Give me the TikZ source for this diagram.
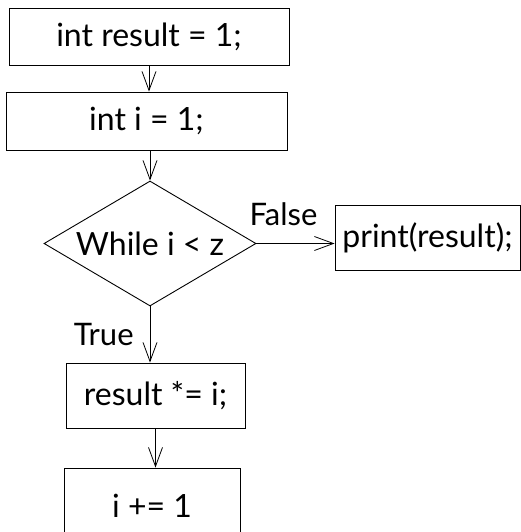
\documentclass[tikz,border=0pt]{standalone}
\usepackage{fontspec}
\setmainfont{Lato}
\usetikzlibrary{arrows.meta,shapes.geometric}

\begin{document}
\begin{tikzpicture}[x=1pt,y=-1pt]
    \tikzset{
        boxstyle/.style={draw, line width=0.9pt, inner sep=0pt, font=\fontsize{32}{36}\selectfont},
        decisionstyle/.style={boxstyle, diamond, aspect=1.7},
        flowarrow/.style={-{Straight Barb[length=19pt,width=14pt]}, line width=0.8pt},
        labelstyle/.style={font=\fontsize{31}{36}\selectfont, inner sep=2pt}
    }
    \clip (0,0) rectangle (521,532);

    % Blocs du programme
    \node[boxstyle, minimum width=280, minimum height=57] (init) at (149,36.5) {int result = 1;};
    \node[boxstyle, minimum width=281, minimum height=58] (counter) at (146.5,121) {int i = 1;};
    \node[decisionstyle, minimum width=212, minimum height=125] (loop) at (150,243.5) {While i < z};
    \node[boxstyle, minimum width=185, minimum height=65] (output) at (427.5,237.5) {print(result);};
    \node[boxstyle, minimum width=179, minimum height=65] (product) at (155.5,395.5) {result *= i;};
    \node[boxstyle, minimum width=176, minimum height=76] (increment) at (152,506) {i += 1};

    % Flèches
    \draw[flowarrow] (init.south) -- (init.south |- counter.north);
    \draw[flowarrow] (loop.north |- counter.south) -- (loop.north);
    \draw[flowarrow] (loop.east) -- (loop.east -| output.west)
        node[labelstyle, midway, above, yshift=15pt, xshift=-12pt] {False};
    \draw[flowarrow] (loop.south) -- (loop.south |- product.north)
        node[labelstyle, midway, left, xshift=-14pt] {True};
    \draw[flowarrow] (product.south) -- (product.south |- increment.north);
\end{tikzpicture}
\end{document}
